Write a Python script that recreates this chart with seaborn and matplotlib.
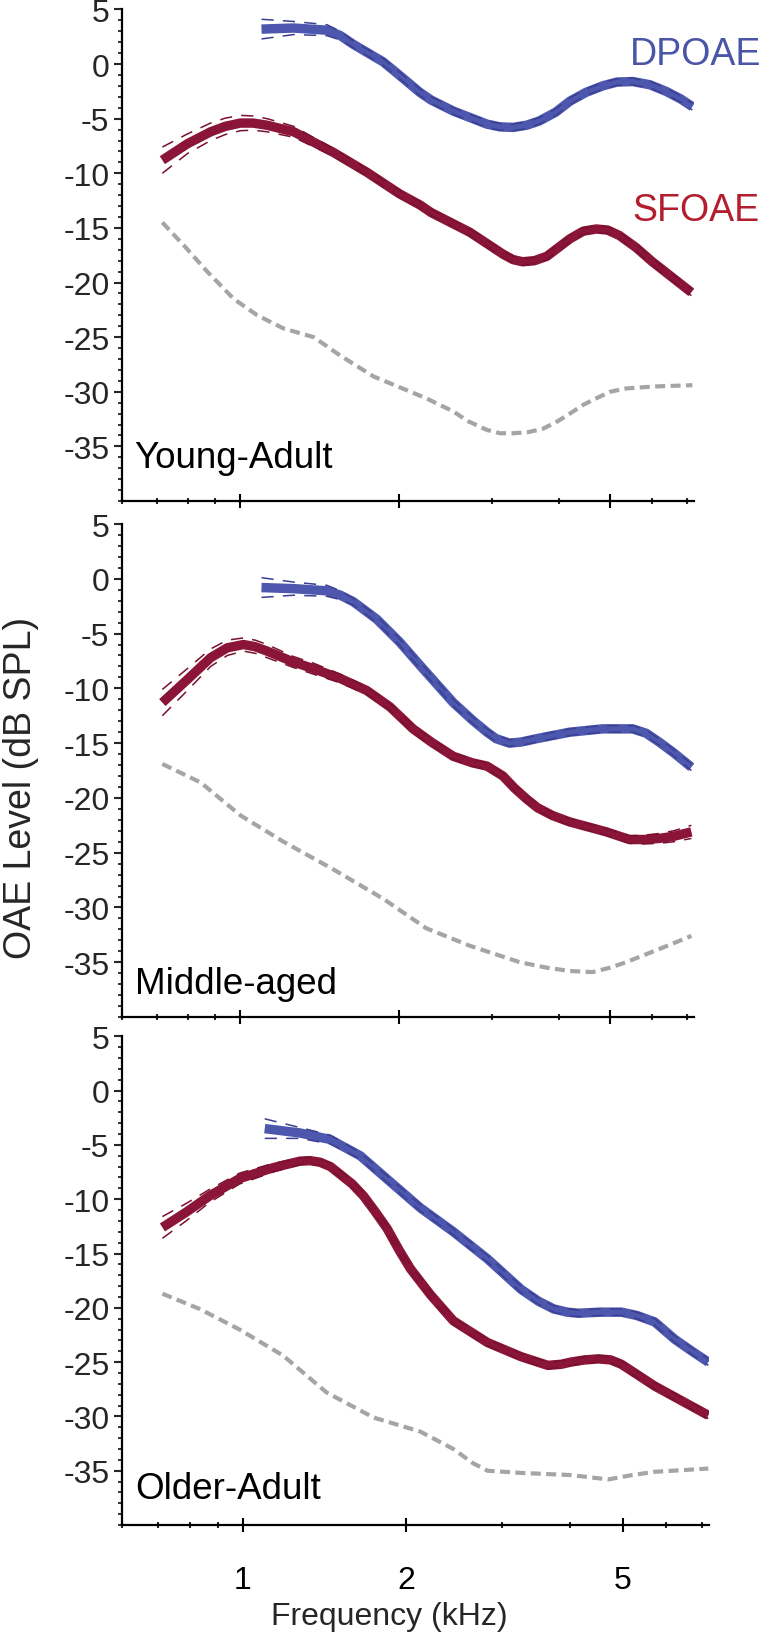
# OAE level vs frequency for three age groups (DPOAE, SFOAE, noise floor)

import numpy as np
import pandas as pd
import seaborn as sns
import matplotlib.pyplot as plt
from matplotlib.ticker import FixedLocator, FixedFormatter, NullFormatter

sns.set_theme(style='ticks')
plt.rcParams['font.family'] = ['Liberation Sans', 'DejaVu Sans']

# ---- data: (freq kHz, level dB SPL[, CI half-width]) ----
groups = ['Young-Adult', 'Middle-aged', 'Older-Adult']

ya_sf = [(0.715, -8.8, 1.2), (0.797, -7.3, 0.9), (0.882, -6.2, 0.8), (0.94, -5.7, 0.75),
         (1.004, -5.4, 0.7), (1.06, -5.4, 0.65), (1.127, -5.6, 0.6), (1.265, -6.2, 0.5),
         (1.505, -8.1, 0.35), (1.738, -9.9, 0.3), (2.007, -11.9, 0.3), (2.19, -12.9, 0.3),
         (2.30, -13.6, 0.3), (2.72, -15.4, 0.3), (3.14, -17.4, 0.3), (3.28, -17.9, 0.3),
         (3.42, -18.1, 0.3), (3.6, -18.0, 0.3), (3.80, -17.6, 0.3), (4.20, -16.0, 0.3),
         (4.45, -15.3, 0.3), (4.71, -15.1, 0.3), (4.95, -15.2, 0.3), (5.21, -15.7, 0.3),
         (5.6, -16.8, 0.3), (6.01, -18.1, 0.3), (7.12, -20.9, 0.3)]
ya_dp = [(1.10, 3.2, 0.9), (1.264, 3.3, 0.6), (1.462, 3.1, 0.5), (1.55, 2.6, 0.4),
         (1.64, 1.8, 0.3), (1.866, 0.2, 0.3), (2.0, -1.0, 0.3), (2.19, -2.6, 0.3),
         (2.30, -3.3, 0.3), (2.53, -4.3, 0.3), (2.93, -5.5, 0.3), (3.1, -5.75, 0.3),
         (3.28, -5.8, 0.3), (3.48, -5.6, 0.3), (3.68, -5.2, 0.3), (3.95, -4.4, 0.3),
         (4.20, -3.4, 0.3), (4.5, -2.6, 0.3), (4.84, -2.0, 0.3), (5.15, -1.65, 0.3),
         (5.52, -1.6, 0.3), (5.95, -1.9, 0.3), (6.38, -2.5, 0.3), (6.8, -3.2, 0.3),
         (7.15, -3.9, 0.3)]
ya_nf = [(0.715, -14.5), (0.785, -16.6), (0.869, -19.0), (0.975, -21.5), (1.08, -23.0),
         (1.21, -24.2), (1.38, -25.0), (1.55, -26.7), (1.79, -28.6), (2.007, -29.6),
         (2.25, -30.6), (2.53, -31.8), (2.7, -32.7), (2.93, -33.5), (3.1, -33.8),
         (3.28, -33.8), (3.5, -33.7), (3.73, -33.4), (3.95, -32.8), (4.20, -32.0),
         (4.45, -31.2), (4.71, -30.6), (5.0, -30.0), (5.36, -29.7), (5.7, -29.6),
         (6.19, -29.5), (7.15, -29.4)]

ma_sf = [(0.715, -11.3, 1.2), (0.797, -9.2, 1.0), (0.882, -7.2, 0.8), (0.948, -6.3, 0.7),
         (1.017, -6.0, 0.6), (1.07, -6.2, 0.6), (1.127, -6.6, 0.6), (1.264, -7.6, 0.5),
         (1.378, -8.2, 0.5), (1.549, -9.1, 0.4), (1.738, -10.2, 0.35), (1.923, -11.7, 0.3),
         (2.125, -13.7, 0.3), (2.30, -14.9, 0.3), (2.53, -16.2, 0.3), (2.75, -16.8, 0.3),
         (2.93, -17.1, 0.3), (3.14, -18.0, 0.3), (3.3, -19.1, 0.3), (3.48, -20.1, 0.3),
         (3.65, -20.9, 0.3), (3.89, -21.6, 0.3), (4.2, -22.2, 0.3), (4.51, -22.6, 0.3),
         (4.92, -23.1, 0.3), (5.44, -23.8, 0.35), (5.8, -23.8, 0.4), (6.19, -23.7, 0.45),
         (6.6, -23.5, 0.5), (7.12, -23.1, 0.6)]
ma_dp = [(1.10, -0.8, 0.9), (1.264, -0.9, 0.6), (1.462, -1.1, 0.5), (1.55, -1.5, 0.4),
         (1.64, -2.1, 0.3), (1.816, -3.7, 0.3), (2.007, -5.8, 0.3), (2.19, -7.9, 0.3),
         (2.53, -11.3, 0.3), (2.75, -12.9, 0.3), (2.93, -14.0, 0.3), (3.05, -14.6, 0.3),
         (3.23, -15.0, 0.3), (3.4, -14.9, 0.3), (3.63, -14.6, 0.3), (4.20, -14.0, 0.3),
         (4.84, -13.7, 0.3), (5.52, -13.7, 0.3), (5.85, -14.1, 0.3), (6.19, -14.9, 0.3),
         (6.6, -15.9, 0.3), (7.12, -17.2, 0.3)]
ma_nf = [(0.715, -16.9), (0.845, -18.6), (1.004, -21.6), (1.21, -24.0), (1.50, -26.5),
         (1.866, -29.2), (2.25, -31.9), (2.72, -33.5), (3.38, -35.0), (3.8, -35.5),
         (4.20, -35.8), (4.63, -35.9), (5.0, -35.5), (5.36, -35.0), (6.19, -33.8),
         (7.12, -32.6)]

oa_sf = [(0.712, -12.6, 1.0), (0.787, -11.2, 0.8), (0.869, -9.7, 0.6), (0.987, -8.1, 0.5),
         (1.138, -7.1, 0.4), (1.274, -6.5, 0.3), (1.33, -6.45, 0.3), (1.388, -6.6, 0.3),
         (1.45, -7.0, 0.3), (1.51, -7.7, 0.3), (1.59, -8.6, 0.3), (1.668, -9.7, 0.3),
         (1.75, -11.1, 0.3), (1.843, -12.7, 0.3), (1.94, -14.7, 0.3), (2.034, -16.4, 0.3),
         (2.215, -18.8, 0.3), (2.44, -21.2, 0.3), (2.82, -23.2, 0.3),
         (3.25, -24.5, 0.3), (3.64, -25.3, 0.3), (3.85, -25.2, 0.3), (4.01, -25.0, 0.3),
         (4.25, -24.8, 0.3), (4.51, -24.7, 0.3), (4.75, -24.8, 0.3), (4.97, -25.2, 0.3),
         (5.72, -27.2, 0.3), (7.18, -29.9, 0.3)]
oa_dp = [(1.098, -3.5, 0.9), (1.274, -3.9, 0.5), (1.448, -4.5, 0.4), (1.645, -6.0, 0.3),
         (1.868, -8.4, 0.3), (2.122, -10.8, 0.3), (2.44, -13.0, 0.3), (2.82, -15.5, 0.3),
         (3.25, -18.3, 0.3), (3.5, -19.4, 0.3), (3.73, -20.1, 0.3), (3.95, -20.4, 0.3),
         (4.14, -20.5, 0.3), (4.55, -20.4, 0.3), (4.97, -20.4, 0.3), (5.3, -20.7, 0.3),
         (5.72, -21.3, 0.3), (6.23, -22.9, 0.3), (6.7, -24.0, 0.3), (7.18, -25.0, 0.3)]
oa_nf = [(0.712, -18.7), (0.833, -20.1), (0.987, -22.0), (1.187, -24.4), (1.427, -27.8),
         (1.74, -30.1), (2.122, -31.4), (2.44, -33.0), (2.65, -34.3), (2.82, -35.0),
         (3.25, -35.2), (4.01, -35.4), (4.70, -35.8), (5.2, -35.4), (5.72, -35.1),
         (7.18, -34.8)]

x_major = [1, 2, 5]
x_minor = [0.6, 0.7, 0.8, 0.9, 3, 4, 6, 7]
y_major = [5, 0, -5, -10, -15, -20, -25, -30, -35]

panels = [(groups[0], ya_nf, ya_sf, ya_dp),
          (groups[1], ma_nf, ma_sf, ma_dp),
          (groups[2], oa_nf, oa_sf, oa_dp)]

# ---- styling ----
blue = '#4c57ad'
red = '#8a1538'
gray = '#a5a5a8'
blue_ci = '#3a3f93'
red_ci = '#7a1030'

rects = [
    [0.1605, 0.6926, 0.7526, 0.3010],
    [0.1605, 0.3766, 0.7526, 0.3019],
    [0.1605, 0.0655, 0.7724, 0.2993],
]
label_y = [-36.9, -37.8, -37.5]

fig = plt.figure(figsize=(7.6, 16.33), dpi=100)

for i, (name, nf, sf, dp) in enumerate(panels):
    ax = fig.add_axes(rects[i])

    noise = pd.DataFrame(nf, columns=['freq', 'level'])
    sns.lineplot(data=noise, x='freq', y='level', ax=ax, color=gray, lw=3.0,
                 linestyle=(0, (2.4, 1.3)), estimator=None, sort=False)

    for pts, c, cc in [(sf, red, red_ci), (dp, blue, blue_ci)]:
        d = pd.DataFrame(pts, columns=['freq', 'level', 'ci'])
        sns.lineplot(data=d, x='freq', y='level', ax=ax, color=c, lw=6.8,
                     estimator=None, sort=False, solid_capstyle='butt',
                     solid_joinstyle='round')
        for s in (1, -1):
            sns.lineplot(x=d['freq'], y=d['level'] + s * d['ci'], ax=ax,
                         color=cc, lw=1.1, linestyle=(0, (8, 6)),
                         estimator=None, sort=False)

    ax.set_xscale('log')
    ax.set_xlim(0.6, 7.2)
    ax.set_ylim(-40, 5)
    ax.xaxis.set_major_locator(FixedLocator(x_major))
    ax.xaxis.set_minor_locator(FixedLocator(x_minor))
    ax.xaxis.set_minor_formatter(NullFormatter())
    if i == 2:
        ax.xaxis.set_major_formatter(FixedFormatter([str(x) for x in x_major]))
    else:
        ax.xaxis.set_major_formatter(NullFormatter())
    ax.yaxis.set_major_locator(FixedLocator(y_major))
    ax.yaxis.set_minor_locator(FixedLocator(list(range(-40, 6))))
    ax.yaxis.set_major_formatter(FixedFormatter([str(y) for y in y_major]))

    ax.tick_params(axis='x', which='major', direction='inout', length=10,
                   width=1.5, labelsize=23, pad=24, colors='black')
    ax.tick_params(axis='x', which='minor', direction='inout', length=5,
                   width=1.5)
    ax.tick_params(axis='y', which='major', direction='out', length=6,
                   width=1.5, labelsize=23, pad=3)
    ax.tick_params(axis='y', which='minor', direction='out', length=3,
                   width=1.3)

    sns.despine(ax=ax)
    for sp in ('left', 'bottom'):
        ax.spines[sp].set_linewidth(1.6)
        ax.spines[sp].set_color('black')
    ax.set_xlabel('')
    ax.set_ylabel('')
    ax.patch.set_alpha(0)

    ax.text(0.022, label_y[i], name, transform=ax.get_yaxis_transform(),
            fontsize=26.5, va='baseline', ha='left', color='black')

    if i == 0:
        ax.text(5.45, 0.0, 'DPOAE', fontsize=27, color='#4a55a6',
                va='baseline', ha='left', clip_on=False)
        ax.text(5.5, -14.3, 'SFOAE', fontsize=27, color='#b31e2e',
                va='baseline', ha='left', clip_on=False)

fig.text(0.028, 1 - 787.5 / 1633, 'OAE Level (dB SPL)', rotation=90,
         va='center', ha='center', fontsize=27)
fig.text(389 / 760, 1 - 1625 / 1633, 'Frequency (kHz)', va='baseline',
         ha='center', fontsize=23)

fig.savefig('out.png', dpi=100)
